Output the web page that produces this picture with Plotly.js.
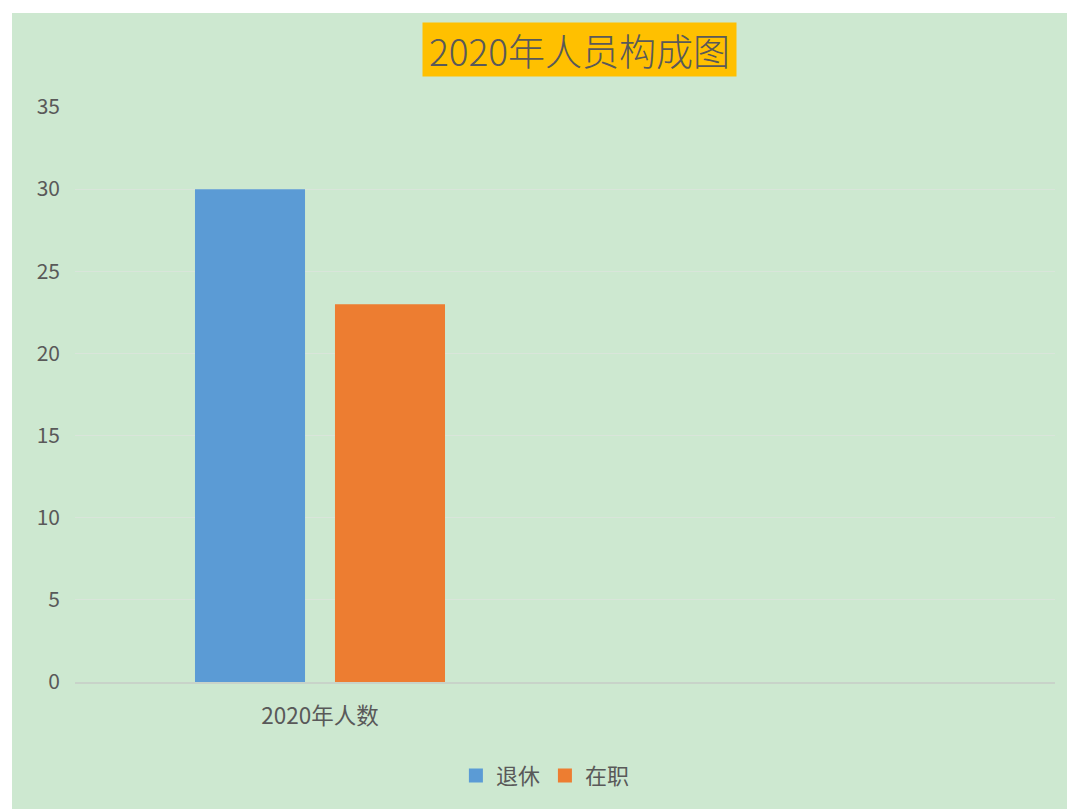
<!DOCTYPE html>
<html>
<head>
<meta charset="utf-8">
<script src="https://cdn.plot.ly/plotly-3.0.1.min.js"></script>
<style>
  html, body { margin: 0; padding: 0; background: #ffffff; }
  #chart { position: absolute; left: 12px; top: 13px; width: 1055px; height: 796px; }
</style>
</head>
<body>
<div id="chart"></div>
<script>
const categories = ["2020年人数"];
const seriesNames = ["退休", "在职"];
const seriesColors = ["#5b9bd5", "#ed7d31"];
const retiredValues = [30];
const employedValues = [23];
const yTicks = [0, 5, 10, 15, 20, 25, 30, 35];
const titleText = "2020年人员构成图";

const font = '"Noto Sans CJK SC", "Noto Sans", sans-serif';
const textColor = '#595959';

const traces = [
  { type: 'bar', name: seriesNames[0], x: categories, y: retiredValues,
    marker: { color: seriesColors[0] }, showlegend: false, legendgroup: 'a' },
  { type: 'bar', name: seriesNames[1], x: categories, y: employedValues,
    marker: { color: seriesColors[1] }, showlegend: false, legendgroup: 'b' },
  // legend entries with larger square swatches
  { type: 'scatter', mode: 'markers', name: seriesNames[0], x: [null], y: [null],
    marker: { symbol: 'square', size: 14, color: seriesColors[0] }, legendgroup: 'a', hoverinfo: 'skip' },
  { type: 'scatter', mode: 'markers', name: seriesNames[1], x: [null], y: [null],
    marker: { symbol: 'square', size: 14, color: seriesColors[1] }, legendgroup: 'b', hoverinfo: 'skip' }
];

const layout = {
  width: 1055, height: 796,
  paper_bgcolor: '#cde8d0',
  plot_bgcolor: '#cde8d0',
  margin: { l: 63, r: 12, t: 94, b: 127 },
  barmode: 'group',
  bargap: 0.4286,
  bargroupgap: 0.214,
  showlegend: true,
  legend: {
    orientation: 'h', x: 0.48, xanchor: 'center', y: -0.163, yanchor: 'middle',
    font: { family: font, size: 22, color: textColor },
    bgcolor: 'rgba(0,0,0,0)', itemwidth: 30, traceorder: 'normal'
  },
  xaxis: {
    type: 'category', range: [-0.5, 1.5],
    showgrid: false, zeroline: false,
    showline: true, linecolor: '#c8d3c9', linewidth: 1.5,
    ticks: '', ticklabelstandoff: 13,
    tickfont: { family: font, size: 22.5, color: textColor },
    fixedrange: true
  },
  yaxis: {
    range: [0, 35], tickvals: yTicks, ticktext: yTicks.map(String),
    showgrid: true, gridcolor: '#d9e5da', gridwidth: 1,
    zeroline: false, showline: false, ticks: '',
    ticklabelstandoff: 14,
    tickfont: { family: font, size: 21, color: textColor },
    fixedrange: true
  },
  annotations: [{
    xref: 'paper', yref: 'paper', x: 0.5148, y: 1.1, xanchor: 'center', yanchor: 'middle',
    text: titleText, showarrow: false,
    font: { family: font, size: 37, color: '#595959', weight: 300 },
    bgcolor: '#ffc000', borderpad: 4, width: 305, height: 45
  }]
};

Plotly.newPlot('chart', traces, layout, { displayModeBar: false });
</script>
</body>
</html>
